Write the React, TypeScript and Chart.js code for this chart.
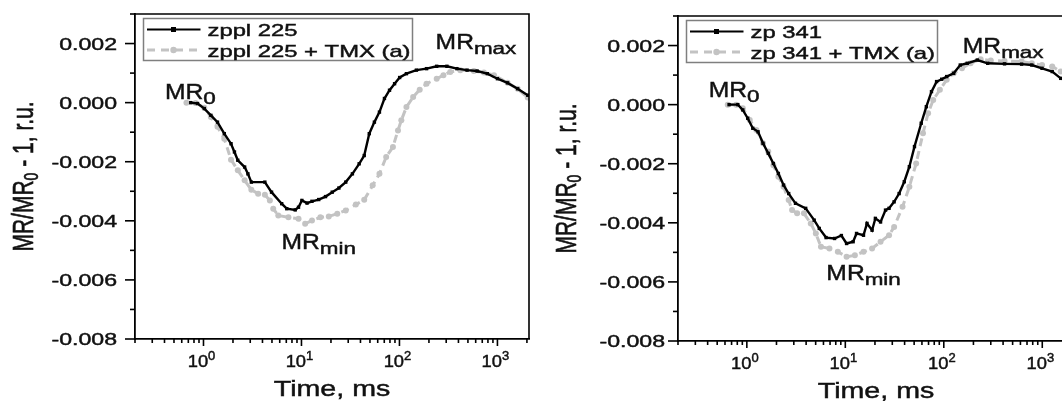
import React, { useEffect, useRef } from "react";
import { Chart, registerables } from "chart.js";

Chart.register(...registerables);

const FONT = '"Liberation Sans", Arial, Helvetica, sans-serif';

// ---------- data (time in ms, MR/MR0 - 1) ----------
const leftBlackT = [0.74, 0.87, 1.02, 1.19, 1.39, 1.63, 1.91, 2.07, 2.24, 2.63, 2.84, 3.08, 4.23, 4.95, 6.28, 7.08, 8.63, 9.33, 10.1, 11.4, 12.8, 15.0, 17.6, 20.6, 24.1, 28.3, 33.1, 38.8, 43.7, 49.2, 55.5, 62.5, 70.3, 79.2, 89.2, 100.5, 117.8, 149, 189, 240, 305, 386, 490, 621, 788, 1000, 1268, 1608, 2039];
const leftBlackV = [0, -0.00003, -0.0002, -0.00043, -0.00066, -0.00105, -0.00139, -0.00167, -0.00195, -0.00218, -0.00241, -0.00269, -0.00269, -0.00303, -0.00342, -0.00359, -0.00363, -0.00354, -0.00331, -0.0034, -0.00334, -0.00328, -0.00318, -0.00303, -0.00289, -0.00269, -0.00241, -0.00207, -0.00179, -0.00105, -0.00066, -0.00032, 0.00014, 0.00042, 0.00064, 0.00085, 0.00098, 0.0011, 0.00115, 0.00123, 0.00123, 0.00115, 0.0011, 0.00107, 0.00098, 0.00081, 0.00067, 0.00047, 0.00025];

const leftGrayT = [0.67, 0.83, 1.02, 1.19, 1.39, 1.63, 1.91, 2.24, 2.63, 3.08, 3.61, 4.23, 4.76, 5.15, 5.8, 7.36, 9.33, 10.9, 12.8, 15.6, 19.0, 23.2, 28.3, 35.9, 43.7, 53.3, 62.5, 73.2, 85.8, 96.6, 104.5, 117.8, 138, 161, 189, 240, 281, 330, 418, 574, 728, 923, 1268, 1608, 2039];
const leftGrayV = [0, -0.00001, -0.00017, -0.00049, -0.00082, -0.00122, -0.00193, -0.00229, -0.00263, -0.00295, -0.00308, -0.00312, -0.00331, -0.00359, -0.00382, -0.00388, -0.00393, -0.0041, -0.00399, -0.00388, -0.00385, -0.00376, -0.00365, -0.00345, -0.00329, -0.0028, -0.00241, -0.00184, -0.0015, -0.00094, -0.0006, -0.00015, 0.00019, 0.00044, 0.00064, 0.00081, 0.00093, 0.00104, 0.0011, 0.00107, 0.00102, 0.00093, 0.00067, 0.00047, 0.00017];

const rightBlackT = [0.66, 0.81, 0.91, 1.02, 1.15, 1.3, 1.46, 1.65, 1.86, 2.09, 2.36, 2.66, 3.12, 3.96, 4.83, 5.44, 6.38, 7.78, 9.12, 10.3, 12.0, 13.0, 15.3, 16.6, 18.7, 20.2, 22.8, 25.6, 27.8, 31.3, 35.2, 39.7, 44.7, 50.4, 59.0, 66.5, 75.0, 84.5, 95.2, 107, 126, 147, 173, 219, 279, 414, 617, 783, 994, 1262, 1538, 2000];
const rightBlackV = [0, 0, -0.00018, -0.00046, -0.0008, -0.00092, -0.00131, -0.00165, -0.00199, -0.00233, -0.00272, -0.00301, -0.00334, -0.00351, -0.00391, -0.00419, -0.0045, -0.00453, -0.00443, -0.0047, -0.00464, -0.00436, -0.00442, -0.00402, -0.00425, -0.00385, -0.00397, -0.00357, -0.00351, -0.00329, -0.00301, -0.00261, -0.0021, -0.00142, -0.00063, -0.00007, 0.00044, 0.00078, 0.00086, 0.00095, 0.00106, 0.00134, 0.0014, 0.00151, 0.0014, 0.00138, 0.00137, 0.00134, 0.00123, 0.00112, 0.00089, 0.0007];

const rightGrayT = [0.64, 0.78, 0.91, 1.07, 1.25, 1.46, 1.65, 1.86, 2.09, 2.36, 2.66, 2.88, 3.24, 3.8, 4.46, 5.02, 5.66, 6.9, 8.4, 10.3, 12.5, 15.3, 18.7, 22.8, 27.8, 31.3, 38.1, 44.7, 52.4, 61.5, 69.3, 78.1, 91.2, 107, 126, 153, 187, 237, 300, 414, 617, 783, 994, 1262, 1538, 2000];
const rightGrayV = [0, 0, -0.00012, -0.00052, -0.00086, -0.00131, -0.00159, -0.00205, -0.00244, -0.00278, -0.00323, -0.00357, -0.00368, -0.00368, -0.00402, -0.00436, -0.00481, -0.00487, -0.00498, -0.00515, -0.0051, -0.00498, -0.00487, -0.00464, -0.00442, -0.00414, -0.00346, -0.00278, -0.00199, -0.00097, -0.00029, 0.00016, 0.0005, 0.00084, 0.00106, 0.00123, 0.0014, 0.00154, 0.00149, 0.00148, 0.00146, 0.0014, 0.00134, 0.00129, 0.00112, 0.0009];

// axes
const X_MIN = 0.2;
const X_MAX = 2100;
const Y_MIN = -0.008;
const Y_MAX = 0.003;
const yTickValues = [-0.008, -0.007, -0.006, -0.005, -0.004, -0.003, -0.002, -0.001, 0, 0.001, 0.002, 0.003];
const yTickLabels = ["-0.008", "", "-0.006", "", "-0.004", "", "-0.002", "", "0.000", "", "0.002", ""];
const xMajorValues = [1, 10, 100, 1000];
const xMajorExponents = ["0", "1", "2", "3"];
const xTitle = "Time, ms";

// annotations (anchor = left/baseline of "MR")
const annoSubs = ["0", "min", "max"];
const leftAnnoT = [0.404, 6.26, 234];
const leftAnnoV = [0.00014, -0.00495, 0.0018];
const rightAnnoT = [0.41, 6.42, 156];
const rightAnnoV = [0.00027, -0.00594, 0.00175];

const leftLabels = ["zppl 225", "zppl 225 + TMX (a)"];
const rightLabels = ["zp 341", "zp 341 + TMX (a)"];

type Part = { t: string; size: number; sx: number; dy: number };

function partWidth(ctx: CanvasRenderingContext2D, p: Part) {
  ctx.font = `${p.size}px ${FONT}`;
  return ctx.measureText(p.t).width * p.sx;
}

function drawParts(ctx: CanvasRenderingContext2D, parts: Part[], x: number, y: number, align: string) {
  const ws = parts.map((p) => partWidth(ctx, p));
  const total = ws.reduce((a, b) => a + b, 0);
  let cx = align === "center" ? x - total / 2 : align === "right" ? x - total : x;
  parts.forEach((p, i) => {
    ctx.save();
    ctx.font = `${p.size}px ${FONT}`;
    ctx.textAlign = "left";
    ctx.textBaseline = "alphabetic";
    ctx.translate(cx, y + p.dy);
    ctx.scale(p.sx, 1);
    ctx.fillText(p.t, 0, 0);
    ctx.strokeStyle = ctx.fillStyle;
    ctx.lineWidth = 0.45;
    ctx.strokeText(p.t, 0, 0);
    ctx.restore();
    cx += ws[i];
  });
}

type PanelCfg = {
  left: number;
  width: number;
  yAxisW: number;
  xAxisH: number;
  padTop: number;
  padRight: number;
  yLabelGap: number;
  legendW: number;
  labels: string[];
  blackT: number[];
  blackV: number[];
  grayT: number[];
  grayV: number[];
  annoT: number[];
  annoV: number[];
};

const GRAY = "#c3c3c3";
const TEXT = "#111";

function makeDecor(cfg: PanelCfg) {
  return {
    id: "decor",
    afterDraw(chart: any) {
      const { ctx, chartArea: ca, scales } = chart;
      const xs = scales.x;
      const ys = scales.y;
      ctx.save();
      ctx.strokeStyle = "#000";
      ctx.fillStyle = TEXT;
      ctx.lineWidth = 1.6;
      // frame top/right
      ctx.beginPath();
      ctx.moveTo(ca.left, ca.top);
      ctx.lineTo(ca.right, ca.top);
      ctx.lineTo(ca.right, ca.bottom);
      ctx.stroke();

      // y ticks and labels
      yTickValues.forEach((v, i) => {
        const py = ys.getPixelForValue(v);
        const major = yTickLabels[i] !== "";
        const len = major ? 10 : 5;
        ctx.strokeStyle = "#000";
        ctx.lineWidth = 1.6;
        ctx.beginPath();
        ctx.moveTo(ca.left - len, py);
        ctx.lineTo(ca.left, py);
        ctx.stroke();
        if (major) {
          drawParts(ctx, [{ t: yTickLabels[i], size: 17, sx: 1.36, dy: 0 }], ca.left - cfg.yLabelGap, py + 6, "right");
        }
      });

      // x ticks
      ctx.strokeStyle = "#000";
      ctx.lineWidth = 1.6;
      for (let e = -1; e <= 3; e++) {
        for (let m = 1; m <= 9; m++) {
          const v = m * Math.pow(10, e);
          if (v < X_MIN || v > X_MAX) continue;
          const px = xs.getPixelForValue(v);
          const len = m === 1 ? 7 : 4;
          ctx.beginPath();
          ctx.moveTo(px, ca.bottom);
          ctx.lineTo(px, ca.bottom + len);
          ctx.stroke();
        }
      }
      xMajorValues.forEach((v, i) => {
        const px = xs.getPixelForValue(v);
        drawParts(
          ctx,
          [
            { t: "10", size: 17, sx: 1.08, dy: 0 },
            { t: xMajorExponents[i], size: 12, sx: 1.08, dy: -6.5 },
          ],
          px - 2,
          ca.bottom + 27.5,
          "center"
        );
      });

      // x title
      drawParts(ctx, [{ t: xTitle, size: 22, sx: 1.3, dy: 0 }], (ca.left + ca.right) / 2, ca.bottom + 56.5, "center");

      // y title (rotated)
      ctx.save();
      ctx.translate(ca.left - 113, (ca.top + ca.bottom) / 2);
      ctx.rotate(-Math.PI / 2);
      ctx.scale(1, 1.4);
      drawParts(
        ctx,
        [
          { t: "MR/MR", size: 21, sx: 1, dy: 0 },
          { t: "0", size: 14, sx: 1, dy: 4 },
          { t: " - 1, r.u.", size: 21, sx: 1, dy: 0 },
        ],
        0,
        7.5,
        "center"
      );
      ctx.restore();

      // annotations
      annoSubs.forEach((s, i) => {
        const px = xs.getPixelForValue(cfg.annoT[i]);
        const py = ys.getPixelForValue(cfg.annoV[i]);
        drawParts(
          ctx,
          [
            { t: "MR", size: 22, sx: 1.12, dy: 0 },
            { t: s, size: 16, sx: 1.4, dy: 5 },
          ],
          px,
          py,
          "left"
        );
      });

      // legend
      const bx = ca.left + 8.5;
      const by = ca.top + 4.5;
      ctx.fillStyle = "#fff";
      ctx.fillRect(bx, by, cfg.legendW, 42);
      ctx.strokeStyle = "#7f7f7f";
      ctx.lineWidth = 1.5;
      ctx.strokeRect(bx, by, cfg.legendW, 42);
      const rows = [by + 11, by + 31.5];
      // row 1 black
      ctx.strokeStyle = "#000";
      ctx.lineWidth = 2.2;
      ctx.beginPath();
      ctx.moveTo(bx + 3.5, rows[0]);
      ctx.lineTo(bx + 57, rows[0]);
      ctx.stroke();
      ctx.fillStyle = "#000";
      ctx.fillRect(bx + 30 - 2.5, rows[0] - 2.5, 5, 5);
      // row 2 gray dashed
      ctx.strokeStyle = GRAY;
      ctx.lineWidth = 2.8;
      ctx.setLineDash([8, 6]);
      ctx.beginPath();
      ctx.moveTo(bx + 3.5, rows[1]);
      ctx.lineTo(bx + 57, rows[1]);
      ctx.stroke();
      ctx.setLineDash([]);
      ctx.fillStyle = GRAY;
      ctx.beginPath();
      ctx.arc(bx + 30, rows[1], 3.2, 0, Math.PI * 2);
      ctx.fill();
      ctx.fillStyle = TEXT;
      cfg.labels.forEach((lab, i) => {
        drawParts(ctx, [{ t: lab, size: 17, sx: 1.4, dy: 0 }], bx + 64, rows[i] + 6.5, "left");
      });
      ctx.restore();
    },
  };
}

function Panel({ cfg }: { cfg: PanelCfg }) {
  const ref = useRef<HTMLCanvasElement>(null);
  useEffect(() => {
    if (!ref.current) return;
    const black = cfg.blackT.map((t, i) => ({ x: t, y: cfg.blackV[i] }));
    const gray = cfg.grayT.map((t, i) => ({ x: t, y: cfg.grayV[i] }));
    const chart = new Chart(ref.current, {
      type: "line",
      data: {
        datasets: [
          {
            label: cfg.labels[0],
            data: black,
            borderColor: "#000",
            backgroundColor: "#000",
            pointBackgroundColor: "#000",
            borderWidth: 2.4,
            pointStyle: "rect",
            pointRadius: 2.4,
            pointBorderWidth: 0,
            tension: 0,
          },
          {
            label: cfg.labels[1],
            data: gray,
            borderColor: GRAY,
            backgroundColor: GRAY,
            pointBackgroundColor: GRAY,
            borderWidth: 3,
            borderDash: [8, 5],
            pointStyle: "circle",
            pointRadius: 3,
            pointBorderWidth: 0,
            tension: 0,
          },
        ],
      } as any,
      options: {
        responsive: false,
        animation: false,
        devicePixelRatio: 1,
        events: [],
        layout: { padding: { top: cfg.padTop, right: cfg.padRight, left: 0, bottom: 0 } },
        plugins: { legend: { display: false }, tooltip: { enabled: false } },
        scales: {
          x: {
            type: "logarithmic",
            min: X_MIN,
            max: X_MAX,
            grid: { display: false, drawTicks: false },
            ticks: { display: false },
            border: { display: true, color: "#000", width: 1.8 },
            afterFit: (s: any) => {
              s.height = cfg.xAxisH;
            },
          },
          y: {
            type: "linear",
            min: Y_MIN,
            max: Y_MAX,
            grid: { display: false, drawTicks: false },
            ticks: { display: false },
            border: { display: true, color: "#000", width: 1.8 },
            afterFit: (s: any) => {
              s.width = cfg.yAxisW;
            },
          },
        },
      } as any,
      plugins: [makeDecor(cfg)],
    });
    return () => chart.destroy();
  }, [cfg]);
  return (
    <canvas
      ref={ref}
      width={cfg.width}
      height={401}
      style={{ position: "absolute", left: cfg.left, top: 0, width: cfg.width, height: 401 }}
    />
  );
}

const leftCfg: PanelCfg = {
  left: 0,
  width: 540,
  yAxisW: 135,
  xAxisH: 62,
  padTop: 14,
  padRight: 11,
  yLabelGap: 18,
  legendW: 269,
  labels: leftLabels,
  blackT: leftBlackT,
  blackV: leftBlackV,
  grayT: leftGrayT,
  grayV: leftGrayV,
  annoT: leftAnnoT,
  annoV: leftAnnoV,
};

const rightCfg: PanelCfg = {
  left: 540,
  width: 560,
  yAxisW: 138,
  xAxisH: 60,
  padTop: 16,
  padRight: 26,
  yLabelGap: 13,
  legendW: 251,
  labels: rightLabels,
  blackT: rightBlackT,
  blackV: rightBlackV,
  grayT: rightGrayT,
  grayV: rightGrayV,
  annoT: rightAnnoT,
  annoV: rightAnnoV,
};

export default function App() {
  return (
    <div
      style={{
        position: "fixed",
        left: 0,
        top: 0,
        width: 1062,
        height: 401,
        overflow: "hidden",
        background: "#fff",
      }}
    >
      <Panel cfg={leftCfg} />
      <Panel cfg={rightCfg} />
    </div>
  );
}
